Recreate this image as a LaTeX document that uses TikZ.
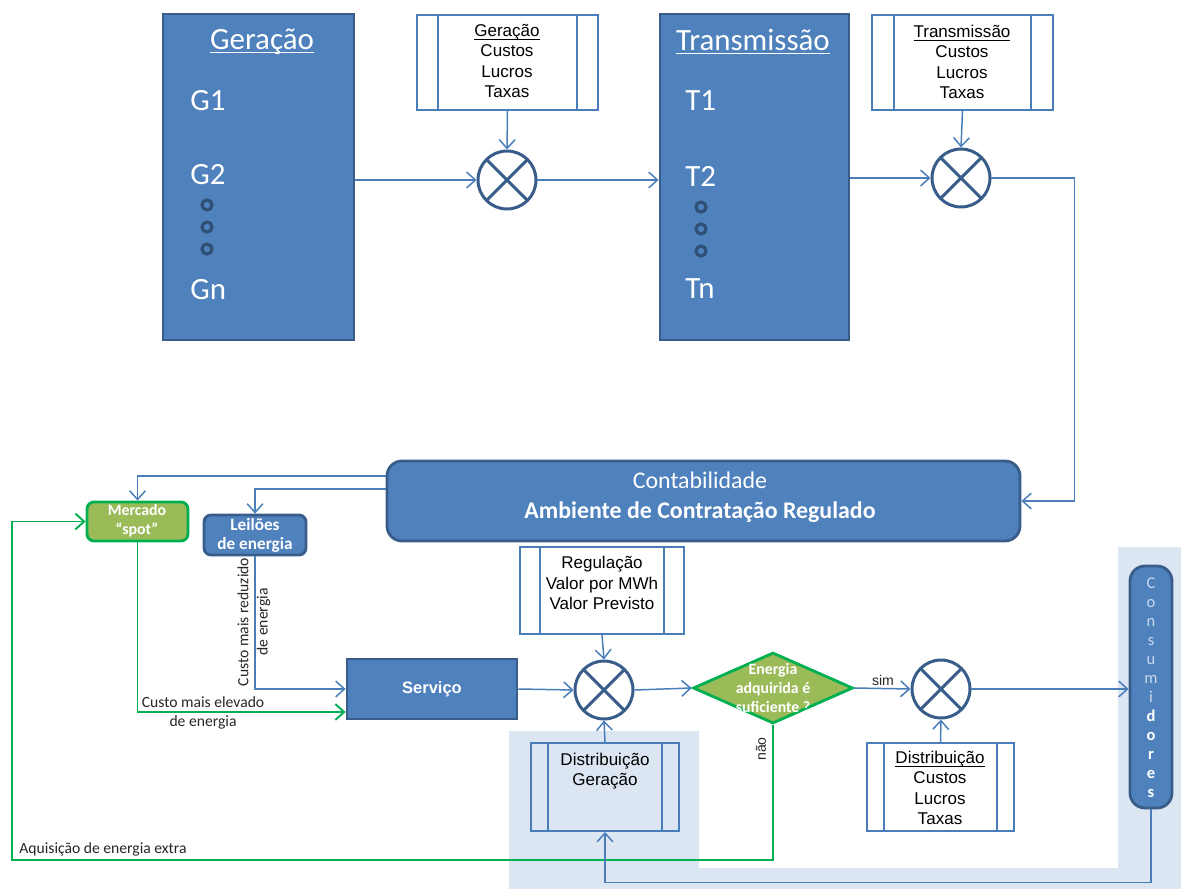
\documentclass[tikz,border=0pt]{standalone}
\usepackage{fontspec}
\setmainfont{Carlito}
\newfontfamily\arialf{Liberation Sans}
\newfontfamily\calf{Carlito}
\usetikzlibrary{shapes.geometric,arrows.meta,calc,fit}
\definecolor{boxfill}{HTML}{4F81BD}
\definecolor{boxdraw}{HTML}{385D8A}
\definecolor{linec}{HTML}{4A7EBB}
\definecolor{shadec}{HTML}{DCE6F2}
\definecolor{gfill}{HTML}{9BBB59}
\definecolor{gline}{HTML}{00B050}
\definecolor{lightc}{HTML}{C9D9EE}
\newcommand\uln[1]{\underline{\smash{#1}}\vphantom{#1}}
\newcommand\plines[2]{%
  \draw[procbox] ($(#1.north west)+(#2,0)$) -- ($(#1.south west)+(#2,0)$);
  \draw[procbox] ($(#1.north east)+(-#2,0)$) -- ($(#1.south east)+(-#2,0)$);}
\tikzset{
  bigbox/.style={draw=boxdraw, fill=boxfill, line width=1.6pt, inner sep=0pt},
  procbox/.style={draw=linec, line width=1.1pt},
  procnode/.style={procbox, fill=white, inner sep=0pt},
  ptext/.style={font=\arialf\fontsize{9.7}{11.6}\selectfont, align=center, text=black, inner sep=0pt},
  bigtext/.style={font=\calf\fontsize{17.6}{20}\selectfont, text=white, inner sep=0pt},
  mult/.style={circle, draw=boxdraw, fill=white, line width=1.7pt, minimum size=1.16cm, inner sep=0pt,
    path picture={\draw[boxdraw, line width=1.7pt]
      (path picture bounding box.north west) -- (path picture bounding box.south east)
      (path picture bounding box.north east) -- (path picture bounding box.south west);}},
  arr/.style={draw=linec, line width=0.85pt, -{Straight Barb[length=5pt,width=9pt]}},
  garr/.style={arr, draw=gline, line width=1.1pt},
  lbl/.style={font=\calf\fontsize{8.9}{11}\selectfont, text=black!85, inner sep=0pt},
  sl/.style={font=\arialf\fontsize{8}{10}\selectfont, text=black!85, inner sep=0pt},
  wtext/.style={text=white, align=center, inner sep=0pt},
  dotc/.style={draw=boxdraw!85!black, line width=1.8pt}
}
\begin{document}
\begin{tikzpicture}[x=0.02cm,y=-0.02cm]
\useasboundingbox (0,0) rectangle (1181,889);
% shaded region
\fill[shadec] (509,731) -- (699,731) -- (699,868) -- (1118,868) -- (1118,547) -- (1181,547) -- (1181,889) -- (509,889) -- cycle;

% big boxes
\node[bigbox, fit={(163,14)(354,340)}] (gen) {};
\node[bigtext] (gtitle) at (262,42) {\uln{Geração}};
\node[bigtext, anchor=west] (g1) at (190,101) {G1};
\node[bigtext, anchor=west] (g2) at (190,175) {G2};
\node[bigtext, anchor=west] (gn) at (190,290) {Gn};
\foreach \yy in {205,227,249} \draw[dotc] (207,\yy) circle[radius=0.1cm];

\node[bigbox, fit={(660,14)(849,340)}] (trans) {};
\node[bigtext] (ttitle) at (753,42) {\uln{Transmissão}};
\node[bigtext, anchor=west] (t1) at (685,101) {T1};
\node[bigtext, anchor=west] (t2) at (685,176) {T2};
\node[bigtext, anchor=west] (tn) at (685,289) {Tn};
\foreach \yy in {207,229,251} \draw[dotc] (701,\yy) circle[radius=0.1cm];

% process boxes
\node[procnode, fit={(417,15)(598,110)}] (pg) {};
\plines{pg}{22}
\node[ptext] (pgt) at (507,61) {\uln{Geração}\\Custos\\Lucros\\Taxas};

\node[procnode, fit={(872,15)(1053,110)}] (pt) {};
\plines{pt}{23}
\node[ptext] (ptt) at (962,62) {\uln{Transmissão}\\Custos\\Lucros\\Taxas};

\node[procnode, fit={(520,547)(684,634)}] (preg) {};
\plines{preg}{21}
\node[ptext] (pregt) at (602,583) {Regulação\\Valor por MWh\\Valor Previsto};

\node[procnode, fit={(531,743)(679,831)}, fill=shadec] (pdg) {};
\plines{pdg}{18}
\node[ptext] (pdgt) at (605,771) {Distribuição\\Geração};

\node[procnode, fit={(867,743)(1014,831)}] (pdist) {};
\plines{pdist}{18}
\node[ptext] (pdistt) at (940,788) {\uln{Distribuição}\\Custos\\Lucros\\Taxas};

% multipliers
\node[mult] (m1) at (507,180) {};
\node[mult] (m2) at (961,178) {};
\node[mult] (m3) at (604,690) {};
\node[mult] (m4) at (941,689) {};

% contabilidade
\node[bigbox, rounded corners=0.3cm, fit={(387,461)(1020,541)}] (cont) {};
\node[wtext, font=\calf\fontsize{13.6}{17}\selectfont] (contt) at (700,497)
  {Contabilidade\\\textbf{Ambiente de Contratação Regulado}};

% mercado / leiloes / servico
\node[draw=gline, fill=gfill, line width=1.6pt, rounded corners=0.14cm, inner sep=0pt, fit={(87,502)(188,541)}] (merc) {};
\node[wtext, font=\calf\bfseries\fontsize{9}{10.8}\selectfont] (merct) at (137,521) {Mercado\\“spot”};
\node[bigbox, rounded corners=0.14cm, fit={(204,515)(306,555)}] (leil) {};
\node[wtext, font=\calf\bfseries\fontsize{9.8}{10.8}\selectfont] (leilt) at (255,535) {Leilões\\de energia};
\node[bigbox, fit={(347,659)(517,719)}] (serv) {};
\node[wtext, font=\arialf\bfseries\fontsize{9.4}{11}\selectfont] (servt) at (432,689) {Serviço};

% diamond
\node[diamond, draw=gline, fill=gfill, line width=1.6pt, minimum width=3.2cm, minimum height=1.42cm, inner sep=0pt] (dia) at (773,688) {};
\node[wtext, font=\calf\bfseries\fontsize{9}{10.6}\selectfont] (diat) at (773,688)
  {Energia\\adquirida é\\suficiente ?};

% consumidores
\node[bigbox, rounded corners=0.3cm, fit={(1130,566)(1172,808)}] (cons) {};
\node[wtext, font=\calf\fontsize{9.4}{10.8}\selectfont] (const) at (1151,688)
  {{\color{lightc}C}\\{\color{lightc}o}\\{\color{lightc}n}\\{\color{lightc}s}\\{\color{lightc}u}\\{\color{lightc}m}\\{\color{lightc}i}\\
   {\bfseries d}\\{\bfseries o}\\{\bfseries r}\\{\bfseries e}\\{\bfseries s}};

% connectors
\draw[arr] (gen.east |- m1.west) -- (m1.west);
\draw[arr] (pg.south) -- (m1.north);
\draw[arr] (m1.east) -- (trans.west |- m1.east);
\draw[arr] (trans.east |- m2.west) -- (m2.west);
\draw[arr] (pt.south) -- (m2.north);
\draw[arr] (m2.east) -| ($(cont.east)+(53,0)$) -- (cont.east);
\draw[arr] ($(cont.west)+(0,-25)$) -| (merc.north);
\draw[arr] ($(cont.west)+(0,-12)$) -| (leil.north);
\draw[garr] (merc.south) |- ($(serv.west)+(0,23)$);
\draw[arr] (leil.south) |- (serv.west);
\draw[arr] (serv.east) -- (m3.west);
\draw[arr] (preg.south) -- (m3.north);
\draw[arr] (pdg.north) -- (m3.south);
\draw[arr] (m3.east) -- (dia.west);
\draw[arr] (dia.east) -- (m4.west);
\draw[arr] (pdist.north) -- (m4.south);
\draw[arr] (m4.east) -- (cons.west |- m4.east);
\coordinate (gc) at (12,860);
\draw[garr] (dia.south) |- (gc) |- (merc.west);
\draw[arr] (cons.south) -- ++(0,73) -| (pdg.south);

% labels
\node[lbl, align=center] (l1) at (203,713) {Custo mais elevado\\de energia};
\node[lbl, align=center, rotate=90] (l2) at (254,622) {Custo mais reduzido\\de energia};
\node[lbl, anchor=west] (l3) at (19,849) {Aquisição de energia extra};
\node[sl] (lsim) at (883,680) {sim};
\node[sl, rotate=90] (lnao) at (761,749) {não};
\end{tikzpicture}
\end{document}
